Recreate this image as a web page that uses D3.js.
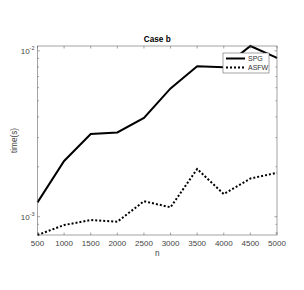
<!DOCTYPE html>
<html lang="en">
<head>
<meta charset="utf-8">
<title>Case b</title>
<script src="https://d3js.org/d3.v7.min.js"></script>
<style>
  body { margin: 0; background: #fff; }
  text { font-family: "Liberation Sans", Arial, sans-serif; }
</style>
</head>
<body>
<script>
// data
var nValues = [500, 1000, 1500, 2000, 2500, 3000, 3500, 4000, 4500, 5000];
var spgTimes = [1.22e-3, 2.17e-3, 3.15e-3, 3.22e-3, 3.94e-3, 5.94e-3, 8.09e-3, 7.98e-3, 1.07e-2, 9.08e-3];
var asfwTimes = [7.76e-4, 8.91e-4, 9.55e-4, 9.33e-4, 1.24e-3, 1.14e-3, 1.94e-3, 1.37e-3, 1.70e-3, 1.84e-3];
var seriesNames = ["SPG", "ASFW"];
var xTicks = [500, 1000, 1500, 2000, 2500, 3000, 3500, 4000, 4500, 5000];

var W = 304, H = 290;
var margin = {left: 37.5, right: 27, top: 46, bottom: 55};

var svg = d3.select("body").append("svg")
    .attr("width", W).attr("height", H);

var x = d3.scaleLinear()
    .domain(d3.extent(nValues))
    .range([margin.left, W - margin.right]);

var allT = spgTimes.concat(asfwTimes);
var y = d3.scaleLog()
    .domain([d3.min(allT), d3.max(allT)])
    .range([H - margin.bottom, margin.top]);

var axisColor = "#666";
var x0 = x.range()[0], x1 = x.range()[1];
var y0 = y.range()[0], y1 = y.range()[1];

// minor/major ticks on the log axis
var majors = [1e-3, 1e-2];
var minors = [];
for (var k = 8; k <= 9; k++) minors.push(k * 1e-4);
for (var k = 2; k <= 9; k++) minors.push(k * 1e-3);
minors = minors.filter(function(v) { return v >= y.domain()[0] && v <= y.domain()[1]; });

var g = svg.append("g");

// x ticks bottom and top (inward)
xTicks.forEach(function(v) {
  g.append("line").attr("x1", x(v)).attr("x2", x(v))
    .attr("y1", y0).attr("y2", y0 - 2.5)
    .attr("stroke", axisColor).attr("stroke-width", 0.6);
  g.append("line").attr("x1", x(v)).attr("x2", x(v))
    .attr("y1", y1).attr("y2", y1 + 2.5)
    .attr("stroke", axisColor).attr("stroke-width", 0.6);
  g.append("text").attr("x", x(v)).attr("y", y0 + 11)
    .attr("text-anchor", "middle").attr("font-size", 8)
    .attr("fill", "#444").text(v);
});

// y ticks left and right
majors.forEach(function(v) {
  [[x0, 2.5], [x1, -2.5]].forEach(function(p) {
    g.append("line").attr("x1", p[0]).attr("x2", p[0] + p[1])
      .attr("y1", y(v)).attr("y2", y(v))
      .attr("stroke", axisColor).attr("stroke-width", 0.6);
  });
  var t = g.append("text").attr("x", x0 - 3).attr("y", y(v) + 3)
    .attr("text-anchor", "end").attr("font-size", 8).attr("fill", "#444");
  t.append("tspan").text("10");
  t.append("tspan").attr("dy", -3.5).attr("font-size", 5.5)
    .text(String(Math.round(Math.log10(v))).replace("-", "-"));
});
minors.forEach(function(v) {
  [[x0, 1.5], [x1, -1.5]].forEach(function(p) {
    g.append("line").attr("x1", p[0]).attr("x2", p[0] + p[1])
      .attr("y1", y(v)).attr("y2", y(v))
      .attr("stroke", axisColor).attr("stroke-width", 0.6);
  });
});

// lines
var line = d3.line()
    .x(function(d, i) { return x(nValues[i]); })
    .y(function(d) { return y(d); });

svg.append("path").datum(spgTimes)
    .attr("d", line).attr("fill", "none")
    .attr("stroke", "#000").attr("stroke-width", 2)
    .attr("stroke-linejoin", "miter");

svg.append("path").datum(asfwTimes)
    .attr("d", line).attr("fill", "none")
    .attr("stroke", "#000").attr("stroke-width", 2)
    .attr("stroke-dasharray", "2,2");

// box
svg.append("rect")
    .attr("x", x0).attr("y", y1)
    .attr("width", x1 - x0).attr("height", y0 - y1)
    .attr("fill", "none").attr("stroke", axisColor).attr("stroke-width", 0.6);

// legend
var lg = svg.append("g").attr("transform", "translate(223,53)");
lg.append("rect").attr("width", 46).attr("height", 20)
    .attr("fill", "#fff").attr("stroke", axisColor).attr("stroke-width", 0.6);
seriesNames.forEach(function(name, i) {
  var ly = 5.5 + i * 9;
  lg.append("line").attr("x1", 3).attr("x2", 22)
    .attr("y1", ly).attr("y2", ly)
    .attr("stroke", "#000").attr("stroke-width", 2)
    .attr("stroke-dasharray", i === 1 ? "2,2" : null);
  lg.append("text").attr("x", 25).attr("y", ly + 2.8)
    .attr("font-size", 7).attr("fill", "#333").text(name);
});

// title and axis labels
svg.append("text").attr("x", (x0 + x1) / 2).attr("y", 42)
    .attr("text-anchor", "middle").attr("font-size", 8.2)
    .attr("font-weight", "bold").attr("fill", "#000").text("Case b");

svg.append("text").attr("x", (x0 + x1) / 2).attr("y", y0 + 21)
    .attr("text-anchor", "middle").attr("font-size", 8.2)
    .attr("fill", "#444").text("n");

svg.append("text")
    .attr("transform", "translate(17," + ((y0 + y1) / 2) + ") rotate(-90)")
    .attr("text-anchor", "middle").attr("font-size", 8.2)
    .attr("fill", "#444").text("time(s)");
</script>
</body>
</html>
